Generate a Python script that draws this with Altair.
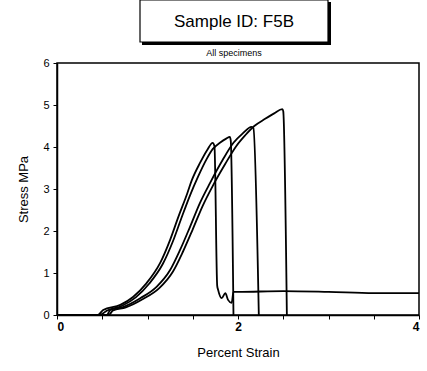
import altair as alt
import pandas as pd

# Specimen curves (percent strain, stress MPa)
a_strain = [0, 0.45, 0.51, 0.70, 0.84, 0.99, 1.14, 1.25, 1.34, 1.44, 1.49, 1.58, 1.66, 1.72, 1.74, 1.77,
            1.78, 1.82, 1.86, 1.89, 1.93, 1.95, 2.0, 2.5, 3.0, 3.5, 4.0]
a_stress = [0, 0, 0.12, 0.24, 0.43, 0.76, 1.24, 1.79, 2.33, 2.90, 3.21, 3.62, 3.93, 4.10, 4.02, 0.7,
            0.60, 0.40, 0.52, 0.36, 0.29, 0.55, 0.55, 0.57, 0.55, 0.52, 0.52]

b_strain = [0, 0.47, 0.55, 0.72, 0.87, 1.02, 1.17, 1.28, 1.37, 1.47, 1.56, 1.65, 1.72, 1.80, 1.87,
            1.91, 1.92, 1.95]
b_stress = [0, 0, 0.10, 0.22, 0.42, 0.75, 1.22, 1.75, 2.28, 2.85, 3.30, 3.70, 3.95, 4.10, 4.20,
            4.24, 4.15, 0]

c_strain = [0, 0.55, 0.59, 0.73, 0.92, 1.10, 1.25, 1.36, 1.47, 1.58, 1.69, 1.83, 1.95, 2.05, 2.15,
            2.17, 2.23]
c_stress = [0, 0, 0.12, 0.19, 0.40, 0.67, 1.07, 1.55, 2.10, 2.67, 3.14, 3.69, 4.10, 4.32, 4.48,
            4.45, 0]

d_strain = [0, 0.57, 0.62, 0.76, 0.95, 1.13, 1.28, 1.39, 1.50, 1.61, 1.72, 1.86, 1.98, 2.08, 2.18,
            2.30, 2.40, 2.49, 2.50, 2.54]
d_stress = [0, 0, 0.11, 0.18, 0.38, 0.64, 1.03, 1.50, 2.04, 2.60, 3.07, 3.60, 4.02, 4.28, 4.50,
            4.67, 4.80, 4.90, 4.85, 0]

specimens = {"1": (a_strain, a_stress), "2": (b_strain, b_stress),
             "3": (c_strain, c_stress), "4": (d_strain, d_stress)}

rows = []
for name, (xs, ys) in specimens.items():
    for i, (x, y) in enumerate(zip(xs, ys)):
        rows.append({"specimen": name, "idx": i, "strain": x, "stress": y})
df = pd.DataFrame(rows)

x_ticks = [0, 0.5, 1, 1.5, 2, 2.5, 3, 3.5, 4]
y_ticks = [0, 1, 2, 3, 4, 5, 6]

FONT = "Liberation Sans"

lines = alt.Chart(df).mark_line(color="black", strokeWidth=1.8, clip=True,
                                interpolate="monotone").encode(
    x=alt.X("strain:Q", scale=alt.Scale(domain=[0, 4], nice=False),
            axis=alt.Axis(values=x_ticks, title="Percent Strain", format="~g",
                          labelExpr="datum.value % 2 == 0 ? datum.label : ''",
                          grid=False, tickSize=4, labelPadding=2, titlePadding=14,
                          labelFontSize=12, titleFontSize=13, labelFontWeight="bold",
                          titleFontWeight="normal")),
    y=alt.Y("stress:Q", scale=alt.Scale(domain=[0, 6], nice=False),
            axis=alt.Axis(values=y_ticks, title="Stress MPa", grid=False, tickSize=4,
                          format="~g", labelPadding=4, titlePadding=12, labelFontSize=11,
                          titleFontSize=13, titleFontWeight="normal")),
    detail="specimen:N",
    order="idx:Q",
)

title_df = pd.DataFrame({"t": ["Sample ID: F5B"]})
shadow = alt.Chart(title_df).mark_rect(color="black").encode(
    x=alt.value(85), x2=alt.value(274), y=alt.value(-61), y2=alt.value(-18))
box = alt.Chart(title_df).mark_rect(fill="white", stroke="black", strokeWidth=1.2).encode(
    x=alt.value(83), x2=alt.value(271), y=alt.value(-63), y2=alt.value(-21))
title_text = alt.Chart(title_df).mark_text(font=FONT, fontSize=17, color="black").encode(
    x=alt.value(177), y=alt.value(-41), text="t:N")
sub_df = pd.DataFrame({"t": ["All specimens"]})
sub_text = alt.Chart(sub_df).mark_text(font=FONT, fontSize=9, color="black").encode(
    x=alt.value(177), y=alt.value(-10), text="t:N")

chart = alt.layer(shadow, box, title_text, sub_text, lines).properties(
    width=362, height=252,
    autosize=alt.AutoSizeParams(type="none"),
    padding={"left": 57, "top": 63, "right": 8, "bottom": 56},
    background="white",
).configure_view(stroke="black", strokeWidth=1.5).configure_axis(
    domainColor="black", domainWidth=1.5, tickColor="black", labelColor="black",
    titleColor="black", labelFont=FONT, titleFont=FONT,
)

chart.save("out.html", embed_options={"renderer": "svg", "actions": False})
